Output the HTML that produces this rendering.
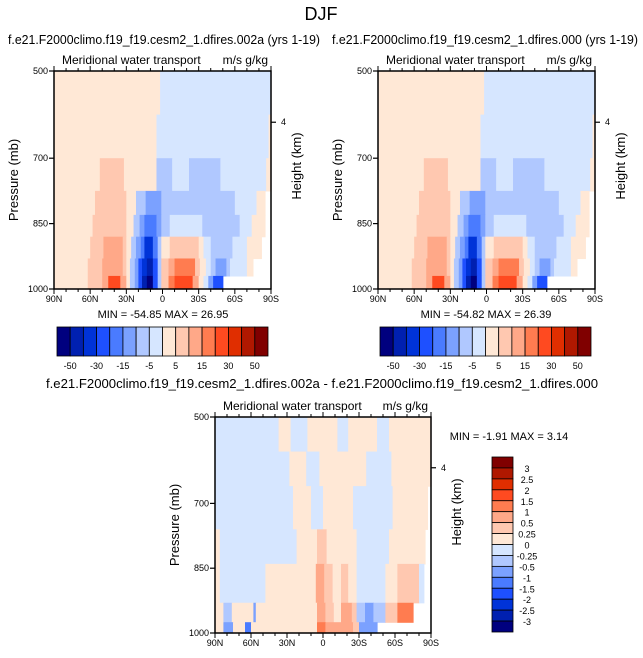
<!DOCTYPE html>
<html><head><meta charset="utf-8">
<style>
html,body{margin:0;padding:0;background:#fff;}
svg{display:block;font-family:"Liberation Sans",sans-serif;}
</style></head>
<body>
<svg id="chart" width="643" height="658" viewBox="0 0 643 658" xmlns="http://www.w3.org/2000/svg">
<text x="321" y="20" font-size="18" text-anchor="middle">DJF</text>
<g id="p1"></g>
<g id="p2"></g>
<g id="p3"></g>
</svg>
<script>
// ---- data ----
const topLevels = [-50,-40,-30,-20,-15,-10,-5,0,5,10,15,20,30,40,50];
const topLabels = ["-50","-30","-15","-5","5","15","30","50"];
const diffLevels = [-3,-2.5,-2,-1.5,-1,-0.5,-0.25,0,0.25,0.5,1,1.5,2,2.5,3];
const diffLabels = ["3","2.5","2","1.5","1","0.5","0.25","0","-0.25","-0.5","-1","-1.5","-2","-2.5","-3"];
const palette = ["#00007f","#0020b0","#0033d8","#1e50ff","#4a7bff","#7ba1ff","#b0c8ff","#d6e6ff","#ffe8d6","#ffc8b0","#ffa888","#ff7c50","#ff4a20","#e02e00","#b01800","#800000"];
const pressureTicks = [500,700,850,1000];
const latTicks = [90,60,30,0,-30,-60,-90];
const latTickLabels = ["90N","60N","30N","0","30S","60S","90S"];
// bands: [pTop, pBottom, segments [latN, latS, value]]
const p1Bands = [
 [500,600,[[90,2,2],[2,-90,-2]]],
 [600,700,[[90,5,2],[5,-88,-2],[-88,-90,2]]],
 [700,775,[[90,52,2],[52,32,7],[32,5,2],[5,-8,-7],[-8,-22,-2],[-22,-48,-7],[-48,-86,-2],[-86,-90,2]]],
 [775,830,[[90,56,2],[56,30,7],[30,22,2],[22,14,-7],[14,1,-12],[1,-60,-7],[-60,-78,-2],[-78,-85,2],[-85,-90,null]]],
 [830,880,[[90,58,2],[58,30,7],[30,24,2],[24,19,-7],[19,15,-12],[15,5,-18],[5,1,-12],[1,-6,-7],[-6,-33,-2],[-33,-64,-7],[-64,-74,-2],[-74,-85,2],[-85,-90,null]]],
 [880,930,[[90,60,2],[60,49,7],[49,33,12],[33,30,7],[30,26,2],[26,22,-7],[22,18,-12],[18,15,-18],[15,8,-35],[8,4,-18],[4,1,-7],[1,-6,2],[-6,-30,7],[-30,-34,2],[-34,-40,-2],[-40,-58,-7],[-58,-70,-2],[-70,-82,2],[-82,-90,null]]],
 [930,970,[[90,62,2],[62,50,7],[50,33,12],[33,30,7],[30,27,2],[27,23,-7],[23,20,-12],[20,17,-25],[17,13,-35],[13,8,-45],[8,4,-25],[4,1,-7],[1,-5,7],[-5,-10,12],[-10,-27,17],[-27,-31,7],[-31,-36,2],[-36,-40,-2],[-40,-44,-7],[-44,-53,-12],[-53,-56,-7],[-56,-70,-2],[-70,-75,2],[-75,-90,null]]],
 [970,1000,[[90,62,2],[62,50,7],[50,45,12],[45,35,22],[35,30,12],[30,27,2],[27,23,-7],[23,20,-12],[20,17,-25],[17,13,-45],[13,8,-55],[8,4,-25],[4,1,-7],[1,-5,7],[-5,-10,17],[-10,-25,22],[-25,-30,12],[-30,-34,2],[-34,-38,-2],[-38,-42,-12],[-42,-50,-22],[-50,-90,null]]]
];
const p2Bands = p1Bands.map(b => [b[0], b[1], b[2].map(s => s.slice())]);
const p3Bands = [
 [500,580,[[90,37,-0.1],[37,27,0.1],[27,13,-0.1],[13,-12,0.1],[-12,-21,-0.1],[-21,-45,0.1],[-45,-55,-0.1],[-55,-90,0.1]]],
 [580,660,[[90,28,-0.1],[28,14,0.1],[14,3,-0.1],[3,-36,0.1],[-36,-57,-0.1],[-57,-90,0.1]]],
 [660,760,[[90,25,-0.1],[25,10,0.1],[10,0,-0.1],[0,-25,0.1],[-25,-58,-0.1],[-58,-87,0.1],[-87,-90,null]]],
 [760,840,[[90,86,0.1],[86,22,-0.1],[22,5,0.1],[5,-3,0.4],[-3,-28,0.1],[-28,-55,-0.1],[-55,-85,0.1],[-85,-90,null]]],
 [840,930,[[90,86,0.1],[86,48,-0.1],[48,6,0.1],[6,-1,0.7],[-1,-8,0.4],[-8,-15,0.1],[-15,-21,0.4],[-21,-28,0.1],[-28,-52,-0.1],[-52,-62,0.1],[-62,-80,0.4],[-80,-84,-0.1],[-84,-90,null]]],
 [930,975,[[90,83,0.1],[83,76,-0.4],[76,58,0.1],[58,56,-0.7],[56,5,0.1],[5,-2,0.7],[-2,-9,0.4],[-9,-15,0.1],[-15,-24,0.7],[-24,-28,0.4],[-28,-35,-0.4],[-35,-42,-0.7],[-42,-52,-0.4],[-52,-62,0.4],[-62,-75,1.2],[-75,-90,null]]],
 [975,1000,[[90,83,0.1],[83,75,-0.7],[75,65,0.1],[65,60,-1.2],[60,5,0.1],[5,-2,1.2],[-2,-25,0.7],[-25,-30,0.4],[-30,-45,-0.7],[-45,-90,null]]]
];
// ---- rendering ----
const NS = "http://www.w3.org/2000/svg";
function mk(parent, tag, attrs, txt){
  const e = document.createElementNS(NS, tag);
  for (const k in attrs) e.setAttribute(k, attrs[k]);
  if (txt !== undefined) e.textContent = txt;
  parent.appendChild(e);
  return e;
}
function colorFor(v, levels){
  let i = 0; while (i < levels.length && v > levels[i]) i++;
  return palette[i];
}
function drawPanel(g, cfg){
  const {x0,x1,y0,y1,bands,levels,title,tx} = cfg;
  const xs = lat => x0 + (90 - lat) / 180 * (x1 - x0);
  const ys = p => y0 + (p - 500) / 500 * (y1 - y0);
  const t = mk(g,'text',{x:tx,y:cfg.titleY,'font-size':12.5,'text-anchor':'middle',textLength:cfg.titleLen,lengthAdjust:'spacingAndGlyphs'},title);
  
  
  const st = mk(g,'text',{x:x0+8,y:y0-7,'font-size':12},'Meridional water transport');
  
  
  const un = mk(g,'text',{x:x1-3,y:y0-7,'font-size':12,'text-anchor':'end'},'m/s g/kg');
  
  
  bands.forEach(b => {
    b[2].forEach(s => {
      if (s[2] === null) return;
      const r = mk(g,'rect',{x:xs(s[0]),y:ys(b[0]),width:xs(s[1])-xs(s[0])+0.6,height:ys(b[1])-ys(b[0])+0.6,fill:colorFor(s[2],levels)});
      
      
    });
  });
  const fr = mk(g,'rect',{x:x0,y:y0,width:x1-x0,height:y1-y0,fill:'none',stroke:'#000','stroke-width':1.5});
  
  
  pressureTicks.forEach(p => {
    mk(g,'line',{x1:x0-5,x2:x0,y1:ys(p),y2:ys(p),stroke:'#000','stroke-width':1.2});
    const l = mk(g,'text',{x:x0-6,y:ys(p)+3,'font-size':9,'text-anchor':'end'},String(p));
    
    
  });
  for (let lat = 90; lat >= -90; lat -= 10){
    const major = lat % 30 === 0;
    const len = major ? 5 : 3;
    mk(g,'line',{x1:xs(lat),x2:xs(lat),y1:y1,y2:y1+len,stroke:'#000','stroke-width':1});
    mk(g,'line',{x1:xs(lat),x2:xs(lat),y1:y0,y2:y0-len,stroke:'#000','stroke-width':1});
  }
  latTicks.forEach((lat,i) => {
    const l = mk(g,'text',{x:xs(lat),y:y1+13,'font-size':9,'text-anchor':'middle'},latTickLabels[i]);
    
    
  });
  const ya = mk(g,'text',{transform:`translate(${x0-36},${(y0+y1)/2}) rotate(-90)`,'font-size':13,'text-anchor':'middle'},'Pressure (mb)');
  
  
  const hy = y0 + 0.235*(y1-y0);
  mk(g,'line',{x1:x1,x2:x1+5,y1:hy,y2:hy,stroke:'#000','stroke-width':1.2});
  const h4 = mk(g,'text',{x:x1+10,y:hy+3,'font-size':9},'4');
  
  
  const ha = mk(g,'text',{transform:`translate(${x1+30},${y0+95}) rotate(-90)`,'font-size':13,'text-anchor':'middle'},'Height (km)');
  
  
}
function hColorbar(g, x0, y0, w, h, labels, minmax, cx){
  const mm = mk(g,'text',{x:cx,y:y0-9,'font-size':11,'text-anchor':'middle'},minmax);
  
  
  const bw = w/palette.length;
  palette.forEach((c,i) => {
    const r = mk(g,'rect',{x:x0+i*bw,y:y0,width:bw,height:h,fill:c,stroke:'#000','stroke-width':0.8});
    
    
  });
  labels.forEach((t,i) => {
    const l = mk(g,'text',{x:x0+(1+2*i)*bw,y:y0+h+13,'font-size':9,'text-anchor':'middle'},t);
    
    
  });
}
drawPanel(document.getElementById('p1'),{x0:54,x1:271,y0:71,y1:289,bands:p1Bands,levels:topLevels,title:'f.e21.F2000climo.f19_f19.cesm2_1.dfires.002a (yrs 1-19)',tx:164,titleY:44,titleLen:312});
hColorbar(document.getElementById('p1'),57,327,211,29,topLabels,'MIN = -54.85  MAX = 26.95',163);
drawPanel(document.getElementById('p2'),{x0:378,x1:595,y0:71,y1:289,bands:p2Bands,levels:topLevels,title:'f.e21.F2000climo.f19_f19.cesm2_1.dfires.000 (yrs 1-19)',tx:485,titleY:44,titleLen:306});
hColorbar(document.getElementById('p2'),380,327,211,29,topLabels,'MIN = -54.82  MAX = 26.39',486);
const g3 = document.getElementById('p3');
drawPanel(g3,{x0:215,x1:431,y0:417,y1:633,bands:p3Bands,levels:diffLevels,title:'f.e21.F2000climo.f19_f19.cesm2_1.dfires.002a - f.e21.F2000climo.f19_f19.cesm2_1.dfires.000',tx:322,titleY:388,titleLen:552});
const mm3 = mk(g3,'text',{x:509,y:440,'font-size':11,'text-anchor':'middle'},'MIN = -1.91  MAX =  3.14');


const vbh = 175/palette.length;
palette.slice().reverse().forEach((c,i) => {
  const r = mk(g3,'rect',{x:492,y:457+i*vbh,width:21,height:vbh,fill:c,stroke:'#000','stroke-width':0.8});
  
  
});
diffLabels.forEach((t,i) => {
  const l = mk(g3,'text',{x:527,y:457+(i+1)*vbh+4,'font-size':9,'text-anchor':'middle'},t);
  
  
});
</script>
</body></html>
